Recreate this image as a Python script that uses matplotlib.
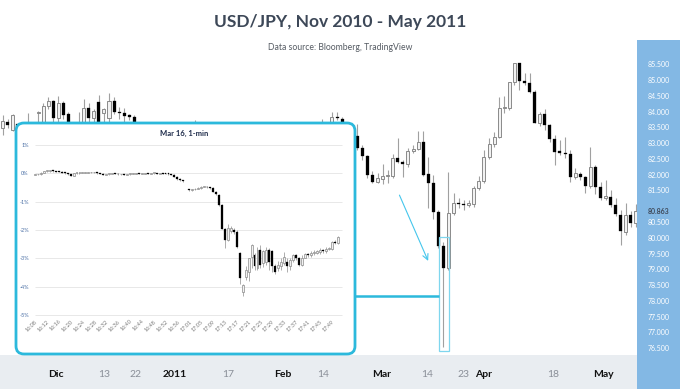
import matplotlib
matplotlib.use("Agg")
import matplotlib.pyplot as plt
import numpy as np
from matplotlib.patches import FancyBboxPatch, Rectangle
from matplotlib.transforms import blended_transform_factory

plt.rcParams["font.family"] = ["Lato", "DejaVu Sans"]

# ---- daily USD/JPY candles, mid Nov 2010 - May 2011 ----
opens = [83.49, 83.70, 83.45, 83.62, 83.40, 83.50, 83.62, 83.97, 83.67, 84.20,
         84.36, 83.82, 84.30, 83.94, 83.30, 83.55, 83.50, 84.14, 83.81, 84.33,
         83.97, 83.81, 84.36, 84.02, 83.99, 83.91, 83.86, 83.62, 83.20, 82.90,
         82.40, 82.00, 81.60, 81.30, 81.70, 82.30, 83.10, 83.40, 83.20, 83.00,
         82.60, 82.80, 82.50, 82.70, 82.30, 82.50, 82.80, 82.60, 82.90, 82.70,
         82.20, 81.90, 82.10, 81.70, 81.80, 82.20, 82.10, 82.50, 83.00, 83.40,
         83.20, 83.50, 83.30, 83.00, 83.50, 83.70, 83.86, 83.78, 83.55, 83.40,
         83.25, 82.88, 82.61, 82.01, 81.80, 81.88, 81.97, 81.97, 82.56, 82.43,
         82.35, 82.77, 82.83, 83.07, 82.03, 81.74, 80.84, 79.75, 79.05, 80.81,
         81.13, 81.10, 81.06, 81.09, 81.61, 81.82, 82.59, 82.98, 83.22, 84.13,
         84.14, 84.95, 85.55, 84.99, 84.92, 84.65, 83.65, 83.94, 83.60, 83.14,
         82.77, 82.70, 82.68, 81.95, 82.03, 81.95, 81.66, 82.27, 81.64, 81.29,
         81.32, 81.06, 80.74, 80.21, 80.74, 80.49]
highs = [83.91, 83.78, 83.95, 83.64, 83.65, 83.97, 83.65, 84.05, 84.28, 84.49,
         84.40, 84.52, 84.35, 84.00, 83.60, 84.00, 84.41, 84.28, 84.10, 84.55,
         84.12, 84.60, 84.47, 84.18, 84.12, 83.95, 83.90, 83.64, 83.30, 83.00,
         82.60, 82.10, 81.70, 81.90, 82.40, 83.20, 83.55, 83.60, 83.75, 83.10,
         82.90, 82.90, 82.80, 82.80, 82.60, 83.00, 83.00, 83.10, 83.10, 82.80,
         82.30, 82.20, 82.20, 82.00, 82.30, 82.40, 82.60, 83.10, 83.50, 83.60,
         83.60, 83.60, 83.40, 83.78, 83.65, 84.02, 84.02, 83.85, 83.60, 83.55,
         83.63, 82.95, 82.65, 82.14, 82.06, 82.36, 82.17, 82.67, 83.17, 82.48,
         82.86, 82.96, 83.40, 83.40, 82.59, 82.00, 80.90, 79.89, 82.11, 81.43,
         81.27, 81.20, 81.20, 81.67, 81.98, 82.80, 83.17, 83.38, 84.49, 84.50,
         84.97, 85.57, 85.56, 85.24, 85.24, 84.70, 84.02, 84.10, 83.62, 83.28,
         83.12, 83.20, 82.80, 82.22, 82.10, 81.97, 82.91, 82.33, 81.80, 81.85,
         81.53, 81.27, 80.90, 81.11, 80.85, 81.10]
lows = [83.28, 83.50, 83.40, 83.30, 83.30, 83.35, 83.30, 83.60, 83.50, 84.10,
        83.70, 83.70, 83.80, 83.20, 83.10, 83.30, 83.40, 83.70, 83.70, 83.50,
        83.60, 83.70, 83.95, 83.80, 83.70, 83.75, 83.50, 83.00, 82.70, 82.20,
        81.80, 81.40, 81.10, 81.20, 81.60, 82.20, 83.00, 82.90, 82.80, 82.40,
        82.50, 82.30, 82.30, 82.00, 82.10, 82.40, 82.40, 82.50, 82.50, 82.00,
        81.70, 81.70, 81.50, 81.60, 81.70, 81.90, 82.00, 82.40, 82.90, 83.10,
        83.10, 83.10, 82.80, 82.90, 83.40, 83.60, 83.75, 83.50, 83.30, 83.10,
        82.80, 82.48, 81.90, 81.76, 81.74, 81.71, 81.75, 81.92, 82.38, 81.95,
        82.27, 82.72, 82.80, 81.97, 80.95, 80.60, 79.70, 76.55, 79.00, 80.75,
        80.95, 80.90, 81.00, 81.00, 81.53, 81.74, 82.50, 82.91, 83.17, 83.97,
        84.07, 84.85, 84.71, 84.85, 84.60, 83.65, 83.55, 83.44, 83.07, 82.33,
        82.64, 82.54, 81.80, 81.88, 81.85, 81.43, 81.60, 81.40, 81.21, 81.20,
        81.00, 80.70, 79.79, 80.10, 80.37, 80.35]
closes = [83.73, 83.60, 83.91, 83.40, 83.60, 83.62, 83.55, 84.02, 84.20, 84.36,
          83.82, 84.30, 83.91, 83.30, 83.55, 83.50, 84.14, 83.81, 84.04, 83.67,
          84.09, 84.36, 84.02, 83.97, 83.88, 83.86, 83.62, 83.20, 82.90, 82.40,
          82.00, 81.60, 81.30, 81.70, 82.30, 83.10, 83.40, 83.20, 83.00, 82.60,
          82.80, 82.50, 82.70, 82.30, 82.50, 82.80, 82.60, 82.90, 82.70, 82.20,
          81.90, 82.10, 81.70, 81.80, 82.20, 82.10, 82.50, 83.00, 83.40, 83.20,
          83.50, 83.30, 83.00, 83.50, 83.60, 83.86, 83.81, 83.55, 83.40, 83.25,
          82.86, 82.61, 82.01, 81.80, 81.90, 81.97, 81.98, 82.56, 82.43, 82.35,
          82.77, 82.83, 83.07, 82.01, 81.74, 80.84, 79.75, 79.05, 80.81, 81.13,
          81.08, 81.06, 81.11, 81.61, 81.82, 82.59, 82.98, 83.22, 84.13, 84.14,
          84.95, 85.55, 84.99, 84.92, 84.65, 83.67, 83.94, 83.60, 83.14, 82.75,
          82.72, 82.66, 81.95, 82.06, 81.93, 81.66, 82.27, 81.64, 81.27, 81.35,
          81.06, 80.76, 80.24, 80.74, 80.49, 80.86]

date_ticks = [10.5, 20.0, 26.3, 34.0, 44.5, 55.3, 63.2, 74.9, 83.8, 90.9, 95.0, 108.6, 118.5]
date_labels = ["Dic", "13", "22", "2011", "17", "Feb", "14", "Mar", "14", "23", "Apr", "18", "May"]
date_is_month = [True, False, False, True, False, True, False, True, False, False, True, False, True]

price_ticks = [85.5, 85.0, 84.5, 84.0, 83.5, 83.0, 82.5, 82.0, 81.5,
               80.5, 80.0, 79.5, 79.0, 78.5, 78.0, 77.5, 77.0, 76.5]
last_price = 80.863

# ---- Mar 16 1-minute bars, % change ----
nan = np.nan
in_open = [-0.05, -0.04, -0.03, 0.02, 0.07, 0.08, 0.08, 0.07, 0.06, 0.05,
           0.02, 0.00, -0.04, -0.08, 0.00, 0.01, 0.02, 0.02, 0.02, 0.03,
           0.03, 0.03, 0.00, -0.02, -0.05, -0.03, -0.02, 0.00, -0.02, -0.04,
           -0.04, -0.05, -0.03, -0.02, -0.01, -0.01, -0.02, -0.01, 0.00, -0.01,
           0.00, 0.00, -0.01, 0.00, -0.01, -0.02, -0.03, -0.05, -0.12, -0.20,
           -0.25, nan, -0.57, -0.59, -0.57, -0.54, -0.52, -0.48, -0.47, -0.50,
           -0.53, -0.65, -0.76, -1.12, -1.96, -2.35, -2.05, -2.00, -2.06, -2.82,
           -4.18, -3.65, -3.47, -2.94, -2.88, -3.35, -2.70, -3.18, -3.12, -2.70,
           -2.76, -3.29, -3.35, -3.29, -3.18, -3.12, -3.29, -3.06, -2.90, -3.00,
           -3.24, -2.98, -2.86, -2.90, -2.82, -2.80, -2.78, -2.72, -2.76, -2.66,
           -2.68, -2.41, -2.47]
in_high = [-0.02, -0.01, 0.04, 0.09, 0.10, 0.10, 0.10, 0.09, 0.08, 0.07,
           0.04, 0.02, -0.02, 0.02, 0.03, 0.04, 0.04, 0.04, 0.05, 0.05,
           0.05, 0.05, 0.02, 0.00, -0.01, 0.00, 0.02, 0.02, 0.00, -0.02,
           -0.02, -0.01, 0.00, 0.01, 0.01, 0.01, 0.01, 0.02, 0.02, 0.02,
           0.02, 0.02, 0.02, 0.02, 0.01, 0.00, -0.01, -0.03, -0.10, -0.18,
           -0.23, nan, -0.55, -0.55, -0.52, -0.50, -0.46, -0.45, -0.45, -0.48,
           -0.50, -0.63, -0.74, -1.10, -1.94, -1.80, -1.85, -1.92, -2.02, -2.78,
           -3.90, -3.29, -2.98, -2.50, -2.80, -2.62, -2.55, -2.70, -2.62, -2.65,
           -2.70, -3.20, -3.10, -3.00, -2.79, -3.00, -3.00, -2.85, -2.85, -2.95,
           -2.90, -2.80, -2.82, -2.75, -2.72, -2.70, -2.65, -2.66, -2.60, -2.60,
           -2.38, -2.36, -2.20]
in_low = [-0.07, -0.06, -0.05, 0.00, 0.05, 0.06, 0.05, 0.04, 0.03, 0.00,
          -0.02, -0.06, -0.10, -0.10, -0.02, -0.01, 0.00, 0.00, 0.00, 0.01,
          0.01, -0.02, -0.04, -0.07, -0.07, -0.05, -0.04, -0.04, -0.06, -0.06,
          -0.07, -0.07, -0.05, -0.04, -0.03, -0.04, -0.04, -0.03, -0.03, -0.03,
          -0.02, -0.03, -0.03, -0.03, -0.04, -0.05, -0.07, -0.14, -0.22, -0.27,
          -0.30, nan, -0.62, -0.61, -0.59, -0.56, -0.54, -0.50, -0.52, -0.54,
          -0.67, -0.76, -1.14, -1.98, -2.65, -2.40, -2.10, -2.15, -2.65, -3.90,
          -4.35, -3.76, -3.82, -3.35, -3.40, -3.40, -3.35, -3.30, -3.25, -3.40,
          -3.47, -3.55, -3.45, -3.40, -3.25, -3.47, -3.40, -3.15, -3.05, -3.28,
          -3.28, -3.00, -2.95, -2.95, -2.88, -2.85, -2.85, -2.80, -2.80, -2.70,
          -2.72, -2.50, -2.50]
in_close = [-0.04, -0.03, 0.02, 0.07, 0.08, 0.08, 0.07, 0.06, 0.05, 0.02,
            0.00, -0.04, -0.08, 0.00, 0.01, 0.02, 0.02, 0.02, 0.03, 0.03,
            0.03, 0.00, -0.02, -0.05, -0.03, -0.02, 0.00, -0.02, -0.04, -0.04,
            -0.05, -0.03, -0.02, -0.01, -0.01, -0.02, -0.01, 0.00, -0.01, 0.00,
            0.00, -0.01, 0.00, -0.01, -0.02, -0.03, -0.05, -0.12, -0.20, -0.25,
            -0.27, nan, -0.59, -0.57, -0.54, -0.52, -0.48, -0.47, -0.50, -0.52,
            -0.65, -0.74, -1.12, -1.96, -2.35, -1.92, -1.95, -2.08, -2.60, -3.70,
            -3.94, -3.41, -3.00, -2.53, -3.29, -2.70, -3.24, -2.76, -2.70, -3.12,
            -3.29, -3.47, -3.24, -3.12, -2.94, -3.29, -3.06, -2.90, -3.00, -3.24,
            -2.98, -2.86, -2.90, -2.80, -2.78, -2.76, -2.70, -2.76, -2.66, -2.64,
            -2.41, -2.47, -2.24]
in_pct_ticks = [1, 0, -1, -2, -3, -4, -5]
in_time_labels = ["16:08", "16:12", "16:16", "16:20", "16:24", "16:28", "16:32",
                  "16:36", "16:40", "16:44", "16:48", "16:52", "16:56", "17:01",
                  "17:05", "17:09", "17:13", "17:17", "17:21", "17:25", "17:29",
                  "17:33", "17:37", "17:41", "17:45", "17:49"]

CYAN = "#2cb9dc"
W, H = 680, 389


def px_rect(x0, y0, x1, y1):
    # pixel box (origin top-left) -> figure fraction [left, bottom, width, height]
    return [x0 / W, 1 - y1 / H, (x1 - x0) / W, (y1 - y0) / H]


def draw_candles(axis, o, h, l, c, width, min_body, wick_lw, edge_lw):
    o, h, l, c = (np.asarray(v, dtype=float) for v in (o, h, l, c))
    xs = np.arange(len(o))
    ok = ~np.isnan(o)
    up = ok & (c >= o)
    down = ok & (c < o)
    axis.vlines(xs[ok], l[ok], h[ok], color="#a0a0a0", linewidth=wick_lw, zorder=2)
    bottom = np.minimum(o, c)
    height = np.maximum(np.abs(c - o), min_body)
    axis.bar(xs[up], height[up], width, bottom[up], facecolor="#f2f2f2",
             edgecolor="#8a8a8a", linewidth=edge_lw, zorder=3)
    axis.bar(xs[down], height[down], width, bottom[down], facecolor="black",
             edgecolor="black", linewidth=0.2, zorder=3)


fig = plt.figure(figsize=(6.8, 3.89), dpi=100)
fig.patch.set_facecolor("white")

# main chart
ax = fig.add_axes(px_rect(0, 0, 637, 355))
ax.patch.set_alpha(0)
draw_candles(ax, opens, highs, lows, closes, 0.6, 0.03, 0.8, 0.7)
ax.set_xlim(-0.51, 125.2)
ax.set_ylim(76.294, 87.563)
ax.set_yticks([])
for s in ax.spines.values():
    s.set_visible(False)
ax.set_xticks(date_ticks)
ax.set_xticklabels(date_labels)
ax.tick_params(axis="x", length=0, pad=11, labelsize=7.5)
for lab, is_month in zip(ax.get_xticklabels(), date_is_month):
    if is_month:
        lab.set_fontweight("bold")
        lab.set_color("#111111")
    else:
        lab.set_color("#8a8f98")

# highlight of the Mar 16/17 crash, link line and arrow
crash = int(np.argmin(lows))
ax.add_patch(Rectangle((crash - 0.9, lows[crash] - 0.13), 1.95, 3.62,
                       fill=False, edgecolor="#7fd6ee", linewidth=0.9, zorder=4))
ax.hlines(78.18, 69.5, crash - 0.9, color=CYAN, linewidth=1.8, zorder=4)
ax.annotate("", xy=(crash - 2.8, 79.2), xytext=(crash - 8.9, 81.45),
            arrowprops=dict(arrowstyle="->", color="#45c6ec", lw=0.8), zorder=4)

# bottom band and right price panel (behind the axes)
fig.patches.append(Rectangle((0, 0), 637 / W, 34 / H, transform=fig.transFigure,
                             facecolor="#e9edf1", edgecolor="none", zorder=-1))
fig.patches.append(Rectangle((637 / W, 0), 43 / W, 1 - 40 / H, transform=fig.transFigure,
                             facecolor="#83b8e4", edgecolor="none", zorder=-1))
panel_tf = blended_transform_factory(fig.transFigure, ax.transData)
for p in price_ticks:
    fig.text(659 / W, p, f"{p:.3f}", transform=panel_tf, ha="center", va="center",
             fontsize=5, color="white")
fig.text(659 / W, last_price, f"{last_price:.3f}", transform=panel_tf, ha="center",
         va="center", fontsize=5, color="#3f4a5a", fontweight="bold")

# titles
fig.text(340 / W, 1 - 22 / H, "USD/JPY, Nov 2010 - May 2011", ha="center", va="center",
         fontsize=12.5, fontweight="bold", color="#3d4858")
fig.text(340 / W, 1 - 47 / H, "Data source: Bloomberg, TradingView", ha="center",
         va="center", fontsize=6.2, color="#555b63")

# inset box
box = FancyBboxPatch((0.16, 0.35), 3.39, 2.31, boxstyle="round,pad=0,rounding_size=0.08",
                     transform=fig.dpi_scale_trans, facecolor="white", edgecolor=CYAN,
                     linewidth=2, zorder=1)
fig.patches.append(box)
fig.text(184 / W, 1 - 133 / H, "Mar 16, 1-min", ha="center", va="center", fontsize=5.5,
         fontweight="bold", color="#1d2b4a", zorder=5)

axi = fig.add_axes(px_rect(33, 140, 345, 316), zorder=2)
axi.patch.set_alpha(0)
axi.hlines(in_pct_ticks, 0, 103.6, color="#e8e8e8", linewidth=0.7, zorder=1)
draw_candles(axi, in_open, in_high, in_low, in_close, 0.65, 0.03, 0.6, 0.5)
axi.set_xlim(-0.67, 104.5)
axi.set_ylim(-5.042, 1.177)
for s in axi.spines.values():
    s.set_visible(False)
axi.set_yticks(in_pct_ticks)
axi.set_yticklabels([f"{t}%" for t in in_pct_ticks])
axi.tick_params(axis="y", length=0, pad=3, labelsize=4, labelcolor="#4a6fa5")
axi.set_xticks(np.arange(len(in_time_labels)) * 4)
axi.set_xticklabels(in_time_labels, rotation=45, ha="right", rotation_mode="anchor")
axi.tick_params(axis="x", length=0, pad=2, labelsize=4, labelcolor="#777777")

fig.savefig("out.png", dpi=100)
